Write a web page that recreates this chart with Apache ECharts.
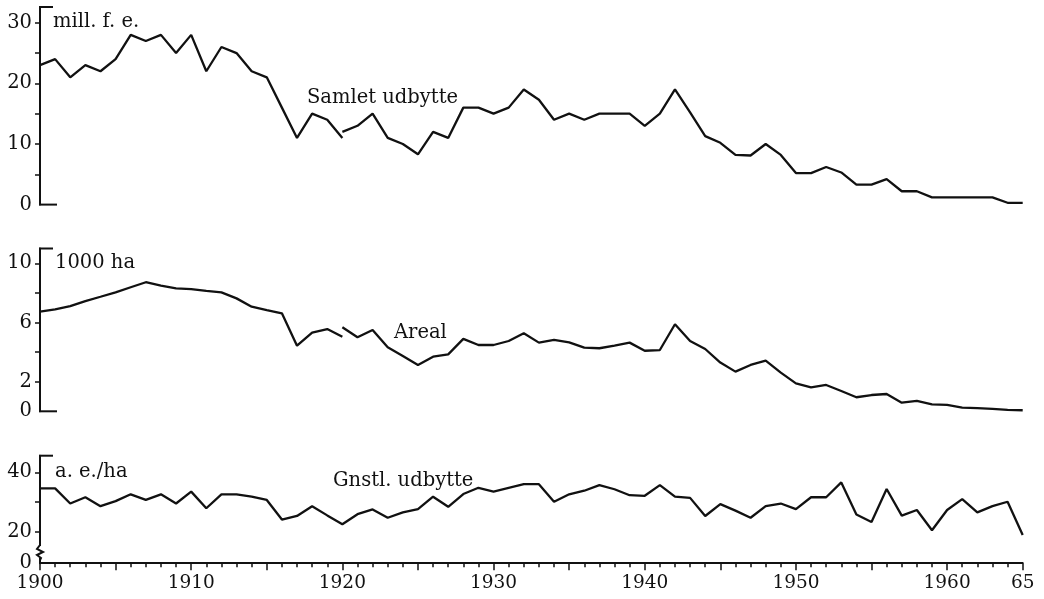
<!DOCTYPE html>
<html>
<head>
<meta charset="utf-8">
<script src="https://cdn.jsdelivr.net/npm/echarts@6/dist/echarts.min.js"></script>
<style>
  html, body { margin: 0; padding: 0; background: #fff; }
  #main { width: 1044px; height: 599px; }
</style>
</head>
<body>
<div id="main"></div>
<script>
// Years on the shared x axis
const years = [
  1900, 1901, 1902, 1903, 1904, 1905, 1906, 1907, 1908, 1909,
  1910, 1911, 1912, 1913, 1914, 1915, 1916, 1917, 1918, 1919,
  1920, 1921, 1922, 1923, 1924, 1925, 1926, 1927, 1928, 1929,
  1930, 1931, 1932, 1933, 1934, 1935, 1936, 1937, 1938, 1939,
  1940, 1941, 1942, 1943, 1944, 1945, 1946, 1947, 1948, 1949,
  1950, 1951, 1952, 1953, 1954, 1955, 1956, 1957, 1958, 1959,
  1960, 1961, 1962, 1963, 1964, 1965
];
const yearsOld = years.slice(0, 21);   // 1900-1920, old borders
const yearsNew = years.slice(20);      // 1920-1965, new borders

// Samlet udbytte, mill. f. e.
const samletOld = [23, 24, 21, 23, 22, 24, 28, 27, 28, 25, 28, 22, 26, 25, 22, 21, 16, 11, 15, 14, 11];
const samletNew = [
  12, 13, 15, 11, 10, 8.3, 12, 11, 16, 16,
  15, 16, 19, 17.3, 14, 15, 14, 15, 15, 15,
  13, 15, 19, 15.2, 11.3, 10.2, 8.2, 8.1, 10, 8.2,
  5.2, 5.2, 6.2, 5.3, 3.3, 3.3, 4.2, 2.2, 2.2, 1.2,
  1.2, 1.2, 1.2, 1.2, 0.3, 0.3
];

// Areal, 1000 ha
const arealOld = [6.73, 6.89, 7.11, 7.45, 7.74, 8.04, 8.38, 8.72, 8.49, 8.31, 8.26, 8.13, 8.04, 7.63, 7.07, 6.84, 6.62, 4.43, 5.31, 5.56, 5.04];
const arealNew = [
  5.68, 5.0, 5.49, 4.32, 3.74, 3.13, 3.69, 3.85, 4.89, 4.48,
  4.48, 4.75, 5.27, 4.64, 4.82, 4.66, 4.30, 4.26, 4.43, 4.64,
  4.09, 4.14, 5.88, 4.75, 4.21, 3.29, 2.68, 3.13, 3.42, 2.61,
  1.89, 1.62, 1.78, 1.37, 0.95, 1.10, 1.17, 0.58, 0.70, 0.47,
  0.43, 0.25, 0.22, 0.17, 0.10, 0.07
];

// Gnstl. udbytte, a. e./ha
const gnstl = [
  34.6, 34.6, 29.5, 31.6, 28.6, 30.3, 32.6, 30.7, 32.6, 29.5,
  33.5, 27.9, 32.6, 32.6, 31.8, 30.7, 24.1, 25.3, 28.6, 25.5,
  22.5, 25.9, 27.5, 24.7, 26.5, 27.6, 31.8, 28.4, 32.7, 34.8,
  33.5, 34.8, 36.0, 36.0, 30.1, 32.6, 33.8, 35.7, 34.3, 32.3,
  32.1, 35.7, 31.8, 31.4, 25.3, 29.3, 27.1, 24.7, 28.6, 29.5,
  27.6, 31.6, 31.6, 36.6, 25.8, 23.3, 34.4, 25.4, 27.3, 20.5,
  27.3, 31.0, 26.5, 28.6, 30.1, 18.9
];

// Tick labels
const xLabels = [1900, 1910, 1920, 1930, 1940, 1950, 1960, 1965];
const samletTicks = [5, 10, 15, 20, 25, 30];
const samletLabels = [0, 10, 20, 30];
const arealTicks = [2, 4, 6, 8, 10];
const arealLabels = [0, 2, 6, 10];
const gnstlBreak = 9.4;   // broken axis: this level is shown as "0"
const gnstlTicks = [20, 30, 40];
const gnstlLabels = [gnstlBreak, 20, 40];

const pair = (xs, ys) => ys.map((v, i) => [xs[i], v]);

const font = "DejaVu Serif";
const ink = "#111";

// grid rectangles
const L = 40, R = 21.3;
const g = [
  { top: 7, height: 197.6 },
  { top: 248.5, height: 162.8 },
  { top: 455.7, height: 107.5 }
];

var myChart = echarts.init(document.getElementById("main"));

function yAxis(idx, min, max, ticks, labels, fmt) {
  return {
    type: "value",
    gridIndex: idx,
    min: min,
    max: max,
    splitLine: { show: false },
    axisLine: { show: true, lineStyle: { color: ink, width: 2 } },
    axisTick: { show: true, customValues: ticks, length: 5, lineStyle: { color: ink, width: 1.5 } },
    axisLabel: {
      customValues: labels,
      margin: 8,
      color: ink,
      fontFamily: font,
      fontSize: 19.5,
      formatter: fmt || ((v) => String(v))
    }
  };
}

function xAxis(idx, visible) {
  return {
    type: "value",
    gridIndex: idx,
    min: 1900,
    max: 1965,
    interval: 5,
    show: visible,
    splitLine: { show: false },
    axisLine: { show: true, onZero: false, lineStyle: { color: ink, width: 2 } },
    axisTick: { show: true, length: 7, lineStyle: { color: ink, width: 1.5 } },
    minorTick: { show: true, splitNumber: 5, length: 4, lineStyle: { color: ink, width: 1.5 } },
    minorSplitLine: { show: false },
    axisLabel: {
      customValues: xLabels,
      margin: 10,
      color: ink,
      fontFamily: font,
      fontSize: 18.5,
      formatter: (v) => (v === 1965 ? "65" : String(v))
    }
  };
}

function line(name, idx, data) {
  return {
    name: name,
    type: "line",
    xAxisIndex: idx,
    yAxisIndex: idx,
    data: data,
    symbol: "none",
    lineStyle: { color: ink, width: 2.3 },
    animation: false
  };
}

function text(str, x, y) {
  return {
    type: "text",
    x: x,
    y: y,
    z: 100,
    style: { text: str, fill: ink, font: "19.5px '" + font + "'", verticalAlign: "middle" }
  };
}

function seg(x1, y1, x2, y2) {
  return {
    type: "line",
    z: 100,
    shape: { x1: x1, y1: y1, x2: x2, y2: y2 },
    style: { stroke: ink, lineWidth: 2 }
  };
}

const brackets = [];
g.forEach((r, i) => {
  brackets.push(seg(L - 1, r.top, L + 13, r.top));
  if (i < 2) brackets.push(seg(L - 1, r.top + r.height, L + 17, r.top + r.height));
});

var option = {
  animation: false,
  backgroundColor: "#fff",
  grid: g.map((r) => ({ left: L, right: R, top: r.top, height: r.height })),
  xAxis: [xAxis(0, false), xAxis(1, false), xAxis(2, true)],
  yAxis: [
    yAxis(0, 0, 32.6, samletTicks, samletLabels),
    yAxis(1, 0, 11, arealTicks, arealLabels),
    yAxis(2, gnstlBreak, 45.6, gnstlTicks, gnstlLabels, (v) => (v === gnstlBreak ? "0" : String(v)))
  ],
  series: [
    line("Samlet udbytte (før 1920)", 0, pair(yearsOld, samletOld)),
    line("Samlet udbytte", 0, pair(yearsNew, samletNew)),
    line("Areal (før 1920)", 1, pair(yearsOld, arealOld)),
    line("Areal", 1, pair(yearsNew, arealNew)),
    line("Gnstl. udbytte", 2, pair(years, gnstl))
  ],
  graphic: [
    text("mill. f. e.", 53, 22),
    text("Samlet udbytte", 307, 98),
    text("1000 ha", 55, 263),
    text("Areal", 394, 333),
    text("a. e./ha", 55, 472),
    text("Gnstl. udbytte", 333, 481),
    ...brackets,
    // axis break on the lower y axis
    { type: "rect", z: 100, shape: { x: L - 4, y: 546, width: 8, height: 12 }, style: { fill: "#fff" } },
    {
      type: "polyline",
      z: 101,
      shape: { points: [[L, 545], [L - 3, 549], [L + 3, 552], [L - 3, 555], [L + 1, 558], [L, 560]] },
      style: { stroke: ink, lineWidth: 2, fill: null }
    }
  ]
};

myChart.setOption(option);
window.onresize = function () {
  myChart.resize();
};
</script>
</body>
</html>
